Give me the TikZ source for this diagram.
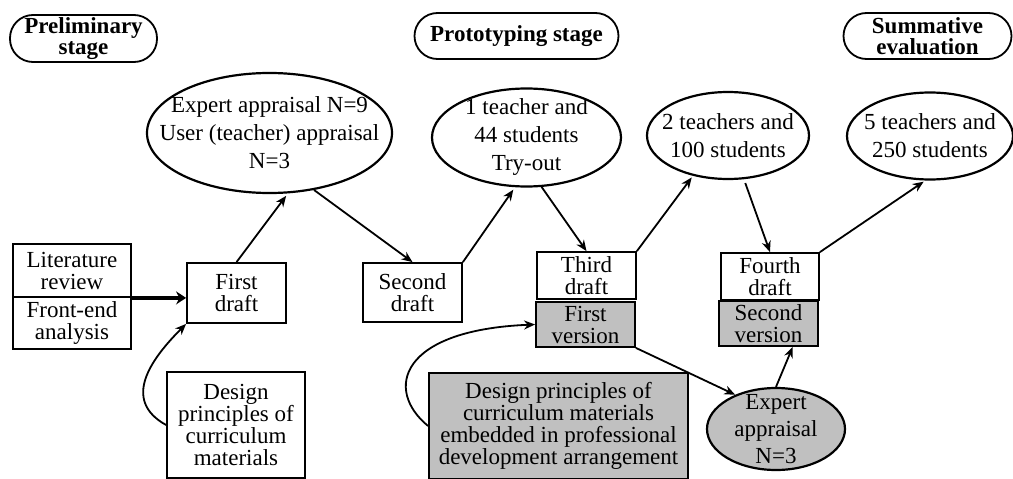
\documentclass[tikz,border=0pt]{standalone}
\usepackage{fontspec}
\setmainfont{Liberation Serif}
\usepackage{xcolor}
\usetikzlibrary{arrows.meta,shapes.geometric}
\definecolor{boxgray}{RGB}{192,192,192}

\begin{document}
\begin{tikzpicture}[x=1pt,y=1pt,>={Stealth[length=11pt,width=9pt]},line width=1.8pt]
\tikzstyle{stage}=[draw,rectangle,rounded corners=23pt,minimum height=46pt,inner sep=0pt,align=center,font=\fontsize{23}{21.5}\selectfont\bfseries]
\tikzstyle{box}=[draw,rectangle,inner sep=0pt,align=center,font=\fontsize{23}{22}\selectfont]
\tikzstyle{sample}=[draw,ellipse,line width=2.2pt,inner sep=-30pt,align=center,font=\fontsize{23}{28}\selectfont]
\useasboundingbox (0,0) rectangle (1013,-479);
% stages
\node[stage,minimum width=147pt,minimum height=47pt] (prelim) at (83.5,-38.5) {Preliminary\\stage};
\node[stage,minimum width=204pt] (proto) at (516.5,-36) {Prototyping stage};
\node[stage,minimum width=168pt] (summ) at (927.5,-36) {Summative\\evaluation};
% appraisals and try-outs
\node[sample,minimum width=245pt,minimum height=120pt] (appr1) at (269.5,-133) {Expert appraisal N=9\\User (teacher) appraisal\\N=3};
\node[sample,minimum width=189pt,minimum height=98pt] (tryout) at (526.5,-137.5) {1 teacher and\\44 students\\Try-out};
\node[sample,minimum width=162pt,minimum height=87pt] (twoT) at (728,-135.5) {2 teachers and\\100 students};
\node[sample,minimum width=166pt,minimum height=87pt] (fiveT) at (930,-136) {5 teachers and\\250 students};
\node[sample,fill=boxgray,minimum width=138pt,minimum height=82pt,font=\fontsize{23}{27}\selectfont] (expert2) at (776,-429) {Expert\\appraisal\\N=3};
% drafts
\node[box,minimum width=118pt,minimum height=53pt] (lit) at (72,-270.5) {Literature\\review};
\node[box,minimum width=118pt,minimum height=52pt] (front) at (72,-323) {Front-end\\analysis};
\node[box,minimum width=99pt,minimum height=60pt] (first) at (236.5,-293) {First\\draft};
\node[box,minimum width=99pt,minimum height=59pt] (second) at (412.5,-292.5) {Second\\draft};
\node[box,minimum width=99pt,minimum height=47pt] (third) at (586.5,-275.5) {Third\\draft};
\node[box,fill=boxgray,minimum width=99pt,minimum height=45pt] (firstv) at (585.5,-324.5) {First\\version};
\node[box,minimum width=98pt,minimum height=47pt] (fourth) at (770,-276.5) {Fourth\\draft};
\node[box,fill=boxgray,minimum width=99pt,minimum height=45pt] (secondv) at (768.5,-323.5) {Second\\version};
\node[box,minimum width=138pt,minimum height=106pt] (design1) at (236,-425) {Design\\principles of\\curriculum\\materials};
\node[box,fill=boxgray,minimum width=259pt,minimum height=106pt] (design2) at (558.5,-426) {Design principles of\\curriculum materials\\embedded in professional\\development arrangement};
% connectors
\draw[->,line width=4.5pt,>={Stealth[length=10pt,width=13pt]}] (lit.south east) -- (lit.south east -| first.west);
\draw[->] (design1.west) .. controls +(-45,25) and +(-35,-35) .. (first.south west);
\draw[->,shorten >=3pt] (first.north) -- (appr1.-73);
\draw[->] (appr1.-52) -- (second.north);
\draw[->,shorten >=3pt] (second.north east) -- (tryout.-103);
\draw[->] (tryout.-73) -- (third.north);
\draw[->,shorten >=2pt] (third.north east) -- (twoT.-131);
\draw[->,shorten <=4pt] (twoT.-70) -- (fourth.north);
\draw[->,shorten >=2pt] (fourth.north east) -- (fiveT.-96);
\draw[->] (firstv.south east) -- (expert2.140);
\draw[->] (expert2.north) -- (secondv.-44);
\draw[->] (design2.west) .. controls +(-44,36) and +(-136,-5.5) .. (firstv.west);
\end{tikzpicture}
\end{document}
